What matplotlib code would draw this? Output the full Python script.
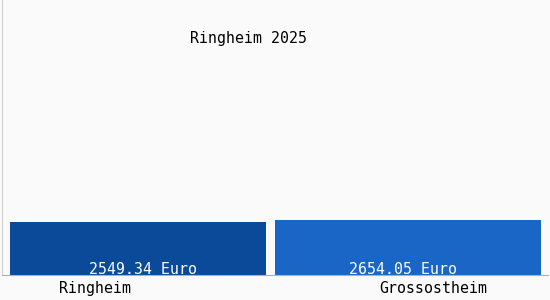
import matplotlib.pyplot as plt
from matplotlib import transforms

# values
places = ["Ringheim", "Grossostheim"]
wages = [2549.34, 2654.05]
value_labels = ["2549.34 Euro", "2654.05 Euro"]
title = "Ringheim 2025"

bar_colors = ["#0a4a98", "#1a66c6"]
mono = "DejaVu Sans Mono"
fsize = 10.7

fig = plt.figure(figsize=(5.5, 3), dpi=100, facecolor="#fafafa")
ax = fig.add_axes([2 / 550, 25 / 300, 546 / 550, 275 / 300])
ax.set_facecolor("#fafafa")

xs = [0, 1]
ax.bar(xs, wages, width=[0.948, 0.985], color=bar_colors)
ax.set_xlim(-0.504, 1.519)
ax.set_ylim(0, 13270)

# value text inside bars, sitting on the base
for x, lab in zip(xs, value_labels):
    ax.text(x + 0.018 * (1 - 2 * x), 70, lab, ha="center", va="baseline",
            color="white", fontsize=fsize, family=mono, weight="medium")

# category names below the axis
trans = transforms.blended_transform_factory(ax.transData, ax.transAxes)
for x, name in zip([-0.16, 1.093], places):
    ax.text(x, -0.048, name, ha="center", va="center", fontsize=fsize,
            family=mono, color="black", transform=trans)

fig.text(248 / 550, 1 - 39 / 300, title, ha="center", va="center",
         fontsize=fsize, family=mono, color="black")

ax.set_xticks([])
ax.set_yticks([])
for side in ["top", "right"]:
    ax.spines[side].set_visible(False)
ax.spines["left"].set_color("#d0d0d0")
ax.spines["bottom"].set_color("#b0b0b0")

fig.savefig("out.png", dpi=100, facecolor=fig.get_facecolor())
